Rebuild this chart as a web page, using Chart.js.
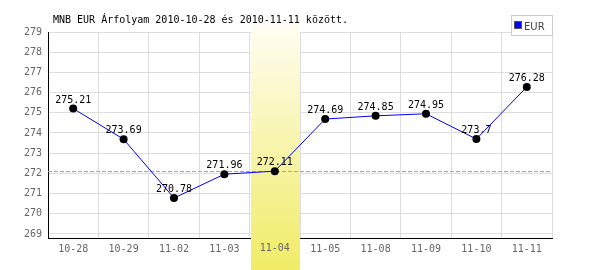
<!DOCTYPE html>
<html>
<head>
<meta charset="utf-8">
<script src="https://cdn.jsdelivr.net/npm/chart.js@4/dist/chart.umd.min.js"></script>
<style>
  body { margin: 0; background: #fff; }
  canvas { display: block; }
</style>
</head>
<body>
<canvas id="chart" width="600" height="270"></canvas>
<script>
const dates = ["10-28", "10-29", "11-02", "11-03", "11-04", "11-05", "11-08", "11-09", "11-10", "11-11"];
const rates = [275.21, 273.69, 270.78, 271.96, 272.11, 274.69, 274.85, 274.95, 273.7, 276.28];
const rateLabels = ["275.21", "273.69", "270.78", "271.96", "272.11", "274.69", "274.85", "274.95", "273.7", "276.28"];
const yTicks = [269, 270, 271, 272, 273, 274, 275, 276, 277, 278, 279];
const highlightIndex = 4;
const refLevel = 272.11;
const title = "MNB EUR Árfolyam 2010-10-28 és 2010-11-11 között.";

const mono = "'DejaVu Sans Mono', monospace";
const tickPad = 5;

// yellow column behind the selected day + dashed reference line
const highlight = {
    id: "highlight",
    beforeDatasetsDraw(chart) {
        const ctx = chart.ctx;
        const x = chart.scales.x;
        const y = chart.scales.y;
        const half = (x.getPixelForValue(1) - x.getPixelForValue(0)) / 2;
        const cx = x.getPixelForValue(highlightIndex);
        const left = Math.round(cx - half) + 1;
        const right = Math.round(cx + half);
        const grad = ctx.createLinearGradient(0, 24, 0, 270);
        grad.addColorStop(0, "#fffdf2");
        grad.addColorStop(1, "#f0ec66");
        ctx.save();
        ctx.fillStyle = grad;
        ctx.fillRect(left, 24, right - left, 246);

        // the day label sits on top of the band
        ctx.font = "10px " + mono;
        ctx.fillStyle = "#666";
        ctx.textAlign = "center";
        ctx.textBaseline = "top";
        ctx.fillText(dates[highlightIndex], cx, chart.chartArea.bottom + tickPad);

        const ly = Math.round(y.getPixelForValue(refLevel)) + 0.5;
        ctx.strokeStyle = "#9999ff";
        ctx.lineWidth = 1;
        ctx.setLineDash([4, 2]);
        ctx.beginPath();
        ctx.moveTo(chart.chartArea.left, ly);
        ctx.lineTo(chart.chartArea.right, ly);
        ctx.stroke();
        ctx.restore();
    },
    afterDatasetsDraw(chart) {
        const ctx = chart.ctx;
        const meta = chart.getDatasetMeta(0);
        ctx.save();
        ctx.font = "10px " + mono;
        ctx.fillStyle = "#000";
        ctx.textAlign = "center";
        ctx.textBaseline = "alphabetic";
        meta.data.forEach(function(pt, i){
            ctx.fillText(rateLabels[i], pt.x, pt.y - 6);
        });
        ctx.restore();
    },
    afterDraw(chart) {
        const ctx = chart.ctx;
        ctx.save();
        ctx.font = "10px " + mono;
        ctx.fillStyle = "#000";
        ctx.textBaseline = "alphabetic";
        ctx.fillText(title, 53, 23);

        // legend box
        ctx.fillStyle = "#fff";
        ctx.fillRect(511.5, 15.5, 41, 20);
        ctx.strokeStyle = "#cccccc";
        ctx.lineWidth = 1;
        ctx.strokeRect(511.5, 15.5, 41, 20);
        ctx.fillStyle = "#0000ff";
        ctx.fillRect(515, 22, 6, 6);
        ctx.strokeStyle = "#555";
        ctx.strokeRect(514.5, 21.5, 7, 7);
        ctx.fillStyle = "#444";
        ctx.font = "10px 'DejaVu Sans', sans-serif";
        ctx.fillText("EUR", 524, 30);
        ctx.restore();
    }
};

new Chart(document.getElementById("chart").getContext("2d"), {
    type: "line",
    data: {
        labels: dates,
        datasets: [{
            label: "EUR",
            data: rates,
            borderColor: "#0000ff",
            borderWidth: 1,
            tension: 0,
            pointRadius: 4,
            pointBackgroundColor: "#000",
            pointBorderColor: "#000",
            pointBorderWidth: 0
        }]
    },
    options: {
        responsive: false,
        animation: false,
        layout: { padding: { top: 32, right: 48, left: 0, bottom: 0 } },
        plugins: {
            legend: { display: false },
            title: { display: false },
            tooltip: { enabled: false }
        },
        scales: {
            x: {
                offset: true,
                grid: { offset: true, color: "#dddddd", drawTicks: false },
                border: { color: "#000", width: 1 },
                ticks: {
                    color: ctx => ctx.index === highlightIndex ? "rgba(0,0,0,0)" : "#666",
                    font: { family: mono, size: 10 },
                    padding: tickPad,
                    maxRotation: 0
                },
                afterFit(axis) { axis.height = 32; }
            },
            y: {
                min: 268.8,
                max: 279,
                grid: { color: "#dddddd", drawTicks: false },
                border: { color: "#000", width: 1 },
                ticks: { color: "#666", font: { family: mono, size: 10 }, padding: 6 },
                afterBuildTicks(axis) { axis.ticks = yTicks.map(v => ({ value: v })); },
                afterFit(axis) { axis.width = 48; }
            }
        }
    },
    plugins: [highlight]
});
</script>
</body>
</html>
